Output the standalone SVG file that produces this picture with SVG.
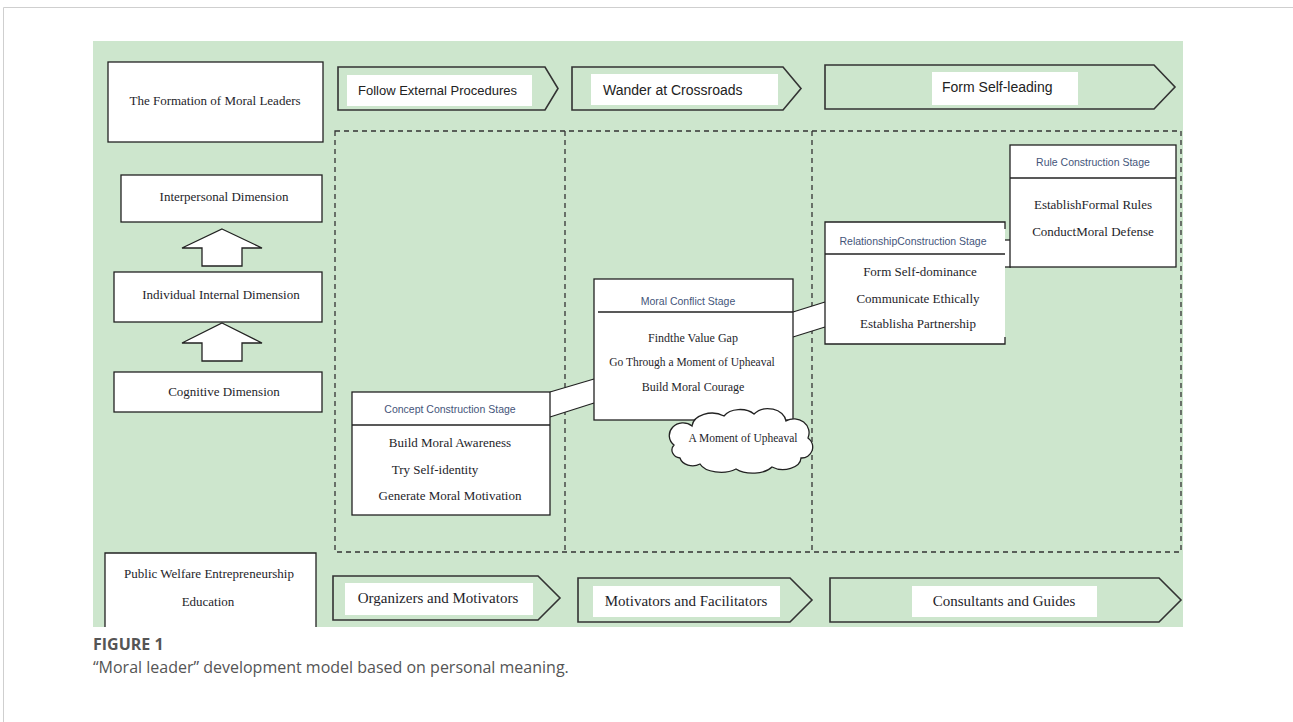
<svg xmlns="http://www.w3.org/2000/svg" width="1293" height="722" viewBox="0 0 1293 722">
<defs>
<style>
.bg{fill:#cde6cd}
.box{fill:#fff;stroke:#222;stroke-width:1.3}
.chev{fill:#cde6cd;stroke:#333;stroke-width:1.6;stroke-linejoin:miter}
.lbl{fill:#fff}
.serif{font-family:"Liberation Serif","Times New Roman",serif;fill:#1e1e2a;font-size:13px;text-anchor:middle}
.s12{font-size:12px}
.s11{font-size:11.5px}
.s16{font-size:15px}
.sans{font-family:"Liberation Sans",Arial,sans-serif;fill:#222;font-size:14px}
.title{font-family:"Liberation Sans",Arial,sans-serif;font-size:10.5px;fill:#44557a;text-anchor:middle}
.dash{fill:none;stroke:#333;stroke-width:1.3;stroke-dasharray:5 4}
.band{fill:#fff;stroke:none}
.bline{stroke:#222;stroke-width:1.3;fill:none}
.cap{font-family:"Open Sans","Liberation Sans",sans-serif;fill:#555;font-size:16px}
</style>
</defs>
<rect x="0" y="0" width="1293" height="722" fill="#fff"/>
<path d="M3.5,722 V7.5 H1293" fill="none" stroke="#cfcfcf" stroke-width="1"/>
<rect class="bg" x="93" y="41" width="1090" height="586"/>

<g id="stage-frame">
<rect class="dash" x="335" y="131" width="846" height="421"/>
<line class="dash" x1="565" y1="131" x2="565" y2="552"/>
<line class="dash" x1="812" y1="131" x2="812" y2="552"/>
</g>

<g id="formation">
<rect class="box" x="108" y="62" width="215" height="80"/>
<text class="serif" x="215" y="105">The Formation of Moral Leaders</text>
</g>

<g id="phase-follow">
<path class="chev" d="M338,67 H545 L558,88.5 L545,110 H338 Z"/>
<rect class="lbl" x="347" y="75" width="185" height="31"/>
<text class="sans" x="358" y="95" style="font-size:13px">Follow External Procedures</text>
</g>
<g id="phase-wander">
<path class="chev" d="M572,67 H783 L801,88.5 L783,110 H572 Z"/>
<rect class="lbl" x="591" y="74" width="187" height="31"/>
<text class="sans" x="603" y="95">Wander at Crossroads</text>
</g>
<g id="phase-form">
<path class="chev" d="M825,65 H1154 L1175,87 L1154,109 H825 Z"/>
<rect class="lbl" x="932" y="72" width="146" height="33"/>
<text class="sans" x="942" y="92">Form Self-leading</text>
</g>

<g id="dim-interpersonal">
<rect class="box" x="121" y="175" width="201" height="47"/>
<text class="serif" x="224" y="201">Interpersonal Dimension</text>
</g>
<g id="dim-individual">
<rect class="box" x="114" y="272" width="208" height="50"/>
<text class="serif" x="221" y="299">Individual Internal Dimension</text>
</g>
<g id="dim-cognitive">
<rect class="box" x="114" y="372" width="208" height="40"/>
<text class="serif" x="224" y="396">Cognitive Dimension</text>
</g>

<g id="connectors">
<polygon class="box" points="222,229 262,248 242,248 242,266 202,266 202,248 182,248"/>
<polygon class="box" points="222,323 262,343 242,343 242,361 202,361 202,343 182,343"/>
<polygon class="band" points="550,392 594,379 594,403 550,417"/>
<line class="bline" x1="550" y1="392" x2="594" y2="379"/>
<line class="bline" x1="550" y1="417" x2="594" y2="403"/>
<polygon class="band" points="793,312 825,302 825,327 793,337"/>
<line class="bline" x1="793" y1="312" x2="825" y2="302"/>
<line class="bline" x1="793" y1="337" x2="825" y2="327"/>
<polygon class="band" points="1004,240 1011,240 1011,267 1004,267"/>
<line class="bline" x1="1004" y1="240" x2="1011" y2="240"/>
<line class="bline" x1="1004" y1="267" x2="1011" y2="267"/>
</g>

<g id="stage-concept">
<rect class="box" x="352" y="392" width="198" height="123"/>
<line class="bline" x1="352" y1="425" x2="550" y2="425"/>
<text class="title" x="450" y="413">Concept Construction Stage</text>
<text class="serif" x="450" y="447">Build Moral Awareness</text>
<text class="serif" x="435" y="474">Try Self-identity</text>
<text class="serif" x="450" y="500">Generate Moral Motivation</text>
</g>

<g id="stage-conflict">
<rect class="box" x="594" y="279" width="199" height="141"/>
<line class="bline" x1="598" y1="312" x2="793" y2="312"/>
<text class="title" x="688" y="305">Moral Conflict Stage</text>
<text class="serif s12" x="693" y="342">Findthe Value Gap</text>
<text class="serif s11" x="692" y="366">Go Through a Moment of Upheaval</text>
<text class="serif s12" x="693" y="391">Build Moral Courage</text>
</g>

<g id="upheaval-cloud">
<path class="box" d="M674,445 A12,11 0 0 1 692,426 A20,14 0 0 1 724,416 A18,12 0 0 1 754,414 A18,14 0 0 1 786,421 A15,14 0 0 1 808,438 A11,11 0 0 1 801,458 A18,12 0 0 1 772,467 A22,12 0 0 1 736,469 A22,12 0 0 1 700,464 A13,10 0 0 1 680,458 A9,8 0 0 1 674,445 Z"/>
<text class="serif s11" x="743" y="442">A Moment of Upheaval</text>
</g>

<g id="stage-relationship">
<rect x="825" y="222" width="180" height="122" fill="#fff"/>
<path class="bline" d="M1005,229 V222 H825 V344 H1005 V337"/>
<line class="bline" x1="825" y1="254" x2="1005" y2="254"/>
<text class="title" x="913" y="245">RelationshipConstruction Stage</text>
<text class="serif" x="920" y="276">Form Self-dominance</text>
<text class="serif" x="918" y="303">Communicate Ethically</text>
<text class="serif" x="918" y="328">Establisha Partnership</text>
</g>

<g id="stage-rule">
<rect class="box" x="1010" y="145" width="166" height="122"/>
<line class="bline" x1="1010" y1="178" x2="1176" y2="178"/>
<text class="title" x="1093" y="166">Rule Construction Stage</text>
<text class="serif" x="1093" y="209">EstablishFormal Rules</text>
<text class="serif" x="1093" y="236">ConductMoral Defense</text>
</g>

<g id="education">
<rect x="105" y="553" width="211" height="74" fill="#fff"/>
<path class="bline" d="M105,627 V553 H316 V627"/>
<text class="serif" x="209" y="578">Public Welfare Entrepreneurship</text>
<text class="serif" x="208" y="606">Education</text>
</g>

<g id="role-organizers">
<path class="chev" d="M333,576 H538 L560,598 L538,620 H333 Z"/>
<rect class="lbl" x="345" y="583" width="188" height="32"/>
<text class="serif s16" x="438" y="603">Organizers and Motivators</text>
</g>
<g id="role-motivators">
<path class="chev" d="M578,578 H790 L812,600 L790,622 H578 Z"/>
<rect class="lbl" x="593" y="586" width="187" height="31"/>
<text class="serif s16" x="686" y="606">Motivators and Facilitators</text>
</g>
<g id="role-consultants">
<path class="chev" d="M830,578 H1159 L1181,600 L1159,622 H830 Z"/>
<rect class="lbl" x="912" y="586" width="185" height="31"/>
<text class="serif s16" x="1004" y="606">Consultants and Guides</text>
</g>

<g id="caption">
<text class="cap" x="93" y="650" font-weight="bold">FIGURE 1</text>
<text class="cap" x="93" y="673">“Moral leader” development model based on personal meaning.</text>
</g>
</svg>
